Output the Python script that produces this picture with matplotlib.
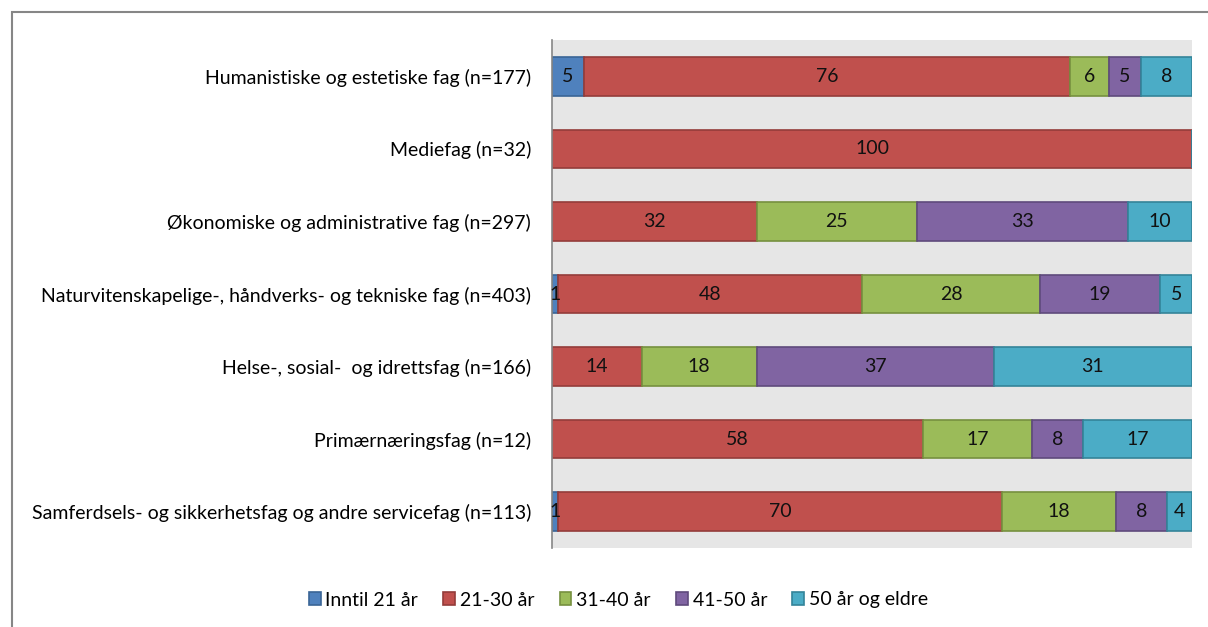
import numpy as np
import matplotlib
matplotlib.use('Agg')
import matplotlib.pyplot as plt
from matplotlib.patches import Rectangle

# categories top to bottom
categories = [
    'Humanistiske og estetiske fag (n=177)',
    'Mediefag (n=32)',
    'Økonomiske og administrative fag (n=297)',
    'Naturvitenskapelige-, håndverks- og tekniske fag (n=403)',
    'Helse-, sosial-  og idrettsfag (n=166)',
    'Primærnæringsfag (n=12)',
    'Samferdsels- og sikkerhetsfag og andre servicefag (n=113)',
]
series = ['Inntil 21 år', '21-30 år', '31-40 år', '41-50 år', '50 år og eldre']

inntil_21 = [5, 0, 0, 1, 0, 0, 1]
aar_21_30 = [76, 100, 32, 48, 14, 58, 70]
aar_31_40 = [6, 0, 25, 28, 18, 17, 18]
aar_41_50 = [5, 0, 33, 19, 37, 8, 8]
aar_50_plus = [8, 0, 10, 5, 31, 17, 4]

colors = ['#4F81BD', '#C0504D', '#9BBB59', '#8064A2', '#4BACC6']
edges = ['#3A6596', '#943C3A', '#76903F', '#5F4A7C', '#348499']

plt.rcParams['font.family'] = ['Lato', 'DejaVu Sans']
fs = 14

fig = plt.figure(figsize=(12.08, 6.27), dpi=100)
ax = fig.add_axes([552 / 1208, 1 - 548 / 627, 640 / 1208, 508 / 627])
ax.set_facecolor('#E6E6E6')

data = np.array([inntil_21, aar_21_30, aar_31_40, aar_41_50, aar_50_plus], dtype=float)
totals = data.sum(axis=0)
y = np.arange(len(categories))
left = np.zeros(len(categories))
for vals, name, c, ec in zip(data, series, colors, edges):
    widths = vals / totals * 100
    bars = ax.barh(y, widths, left=left, height=0.53, color=c, edgecolor=ec,
                   linewidth=1.2, label=name)
    for b, v in zip(bars, vals):
        if v > 0:
            ax.text(b.get_x() + b.get_width() / 2, b.get_y() + b.get_height() / 2,
                    f'{v:.0f}', ha='center', va='center', fontsize=fs, color='#111111')
    left += widths

ax.set_xlim(0, 100)
ax.set_ylim(len(categories) - 0.5, -0.5)
ax.set_yticks(y)
ax.set_yticklabels(categories, fontsize=fs)
ax.tick_params(axis='y', length=0, pad=15)
ax.set_xticks([])
for s in ['top', 'right', 'bottom']:
    ax.spines[s].set_visible(False)
ax.spines['left'].set_color('#868686')
ax.spines['left'].set_linewidth(1.2)

fig.legend(loc='center', bbox_to_anchor=(0.512, 1 - 600 / 627), ncol=5, frameon=False,
           fontsize=fs, handlelength=0.6, handleheight=0.6, handletextpad=0.25,
           columnspacing=1.3)

# outer chart border
fig.patches.append(Rectangle((11.5 / 1208, -0.1), 1.2, 1 - 11.5 / 627 + 0.1,
                             transform=fig.transFigure, fill=False,
                             edgecolor='#868686', linewidth=1.5))

fig.savefig('out.png', dpi=100)
